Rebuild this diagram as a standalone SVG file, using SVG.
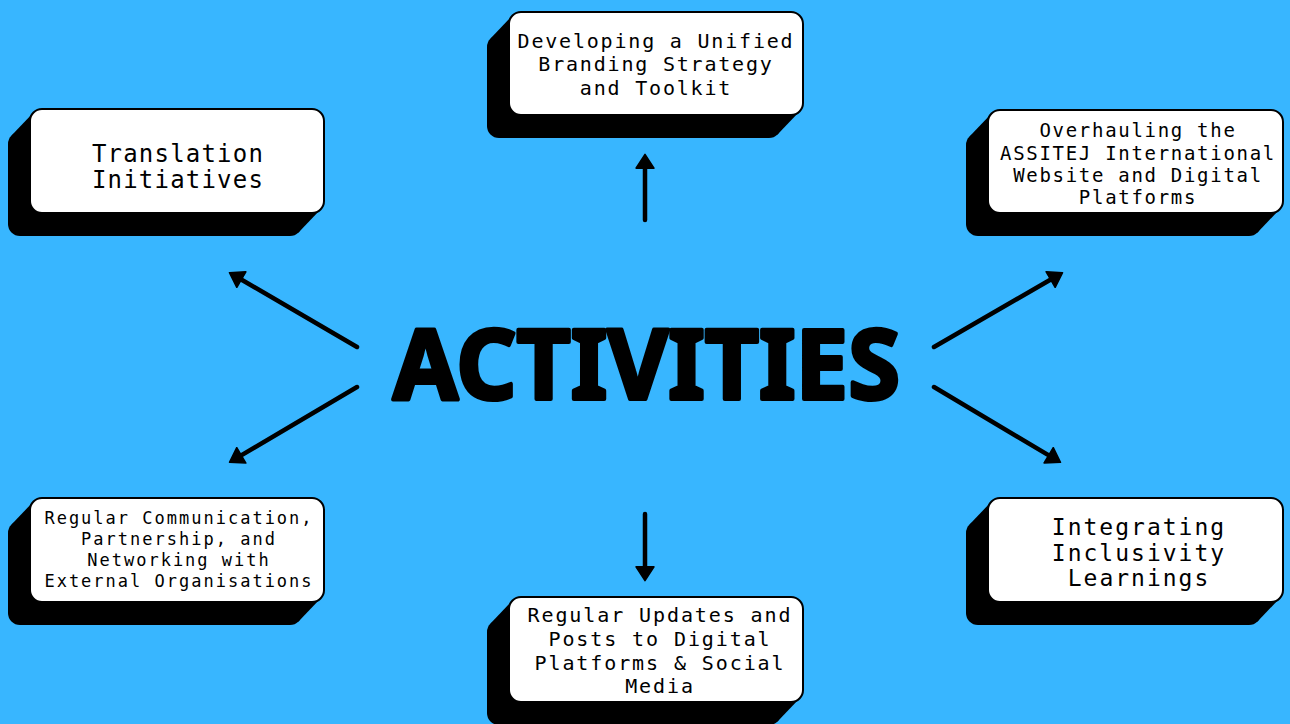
<svg xmlns="http://www.w3.org/2000/svg" width="1290" height="724" viewBox="0 0 1290 724">
<style>
.sh{fill:#000}
.bx{fill:#fff;stroke:#000;stroke-width:2}
.t{font-family:"DejaVu Sans Mono","Liberation Mono",monospace;fill:#000;text-anchor:middle}
.c{stroke:#000;stroke-width:4.5;fill:none;stroke-linecap:round}
.title{font-family:"Noto Sans","Open Sans",sans-serif;font-weight:700;font-size:97px;fill:#000;stroke:#000;stroke-width:4;stroke-linejoin:round}
</style>
<defs>
<marker id="ah" markerUnits="userSpaceOnUse" markerWidth="16" markerHeight="20" viewBox="-1 -1 15 19" refX="2" refY="8.5" orient="auto">
<path d="M0,0 L13,8.5 L0,17 Z" fill="#000" stroke="#000" stroke-width="1.5" stroke-linejoin="round"/>
</marker>
</defs>
<rect width="1290" height="724" fill="#38b6ff"/>

<g id="connectors">
<line class="c" x1="645" y1="220" x2="645" y2="166" marker-end="url(#ah)"/>
<line class="c" x1="645" y1="514" x2="645" y2="569" marker-end="url(#ah)"/>
<line class="c" x1="357" y1="347" x2="239.5" y2="278.5" marker-end="url(#ah)"/>
<line class="c" x1="357" y1="387" x2="239.5" y2="456.4" marker-end="url(#ah)"/>
<line class="c" x1="934" y1="347" x2="1052.5" y2="278.5" marker-end="url(#ah)"/>
<line class="c" x1="934" y1="387" x2="1050.5" y2="456.4" marker-end="url(#ah)"/>
</g>

<g id="center">
<text class="title" x="393" y="399" textLength="507" lengthAdjust="spacingAndGlyphs">ACTIVITIES</text>
</g>

<g id="branding">
<rect class="sh" x="487" y="35" width="294" height="103" rx="12"/>
<polygon class="sh" points="512.5,15.5 799.5,111.5 777.5,134.5 490.5,38.5"/>
<rect class="bx" x="509" y="12" width="294" height="103" rx="12"/>
<text class="t" font-size="20" letter-spacing="1.8"><tspan x="656" y="48">Developing a Unified</tspan><tspan x="656" y="71">Branding Strategy</tspan><tspan x="656" y="95">and Toolkit</tspan></text>
</g>

<g id="translation">
<rect class="sh" x="8" y="132" width="294" height="104" rx="12"/>
<polygon class="sh" points="33.5,112.5 320.5,209.5 298.5,232.5 11.5,135.5"/>
<rect class="bx" x="30" y="109" width="294" height="104" rx="12"/>
<text class="t" font-size="24" letter-spacing="1.2"><tspan x="178" y="162">Translation</tspan><tspan x="178" y="188">Initiatives</tspan></text>
</g>

<g id="website">
<rect class="sh" x="966" y="133" width="295" height="103" rx="12"/>
<polygon class="sh" points="991.5,113.5 1279.5,209.5 1257.5,232.5 969.5,136.5"/>
<rect class="bx" x="988" y="110" width="295" height="103" rx="12"/>
<text class="t" font-size="19" letter-spacing="1.7"><tspan x="1138" y="137">Overhauling the</tspan><tspan x="1138" y="159.5">ASSITEJ International</tspan><tspan x="1138" y="182">Website and Digital</tspan><tspan x="1138" y="204">Platforms</tspan></text>
</g>

<g id="communication">
<rect class="sh" x="8" y="521" width="294" height="104" rx="12"/>
<polygon class="sh" points="33.5,501.5 320.5,598.5 298.5,621.5 11.5,524.5"/>
<rect class="bx" x="30" y="498" width="294" height="104" rx="12"/>
<text class="t" font-size="17" letter-spacing="2"><tspan x="179" y="524">Regular Communication,</tspan><tspan x="179" y="545">Partnership, and</tspan><tspan x="179" y="566">Networking with</tspan><tspan x="179" y="587">External Organisations</tspan></text>
</g>

<g id="updates">
<rect class="sh" x="487" y="620" width="294" height="105" rx="12"/>
<polygon class="sh" points="512.5,600.5 799.5,698.5 777.5,721.5 490.5,623.5"/>
<rect class="bx" x="509" y="597" width="294" height="105" rx="12"/>
<text class="t" font-size="20" letter-spacing="1.9"><tspan x="660" y="622">Regular Updates and</tspan><tspan x="660" y="646">Posts to Digital</tspan><tspan x="660" y="670">Platforms &amp; Social</tspan><tspan x="660" y="693">Media</tspan></text>
</g>

<g id="inclusivity">
<rect class="sh" x="966" y="521" width="295" height="104" rx="12"/>
<polygon class="sh" points="991.5,501.5 1279.5,598.5 1257.5,621.5 969.5,524.5"/>
<rect class="bx" x="988" y="498" width="295" height="104" rx="12"/>
<text class="t" font-size="23" letter-spacing="2"><tspan x="1139" y="535">Integrating</tspan><tspan x="1139" y="560.5">Inclusivity</tspan><tspan x="1139" y="586">Learnings</tspan></text>
</g>
</svg>
